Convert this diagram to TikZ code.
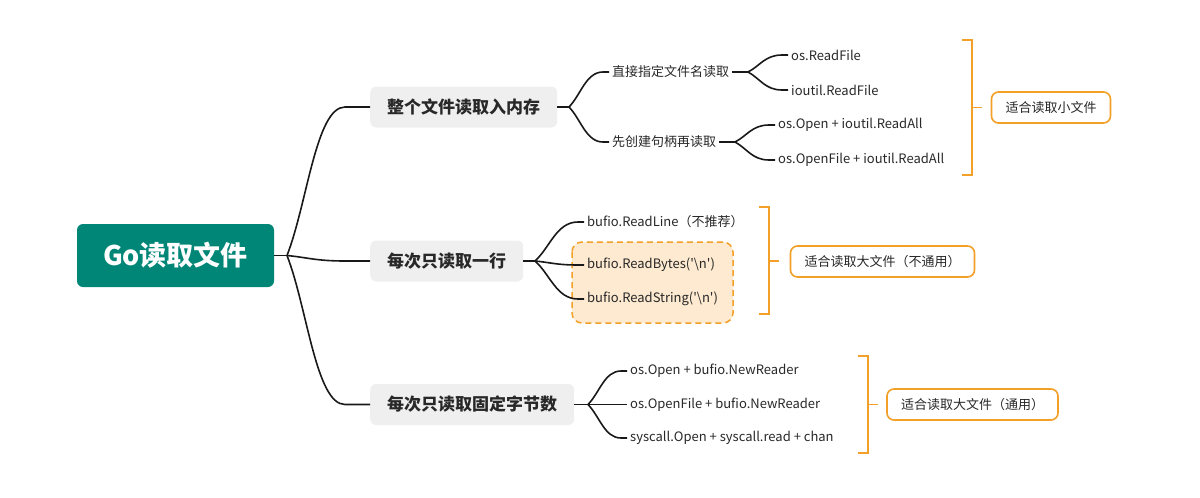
\documentclass[tikz,border=0pt]{standalone}
\usepackage{fontspec}
\setmainfont{Noto Sans CJK SC}
\usetikzlibrary{calc,positioning}
\definecolor{rootteal}{RGB}{0,134,118}
\definecolor{noteorange}{RGB}{242,160,40}
\definecolor{hlfill}{RGB}{253,234,208}
\definecolor{topicgray}{RGB}{239,239,239}
\definecolor{inkgray}{RGB}{40,40,40}

\tikzset{
  rootbox/.style={fill=rootteal, rounded corners=6pt, text=white, font=\fontsize{27}{30}\selectfont\bfseries, minimum width=197pt, minimum height=63pt},
  topic/.style={fill=topicgray, rounded corners=6pt, text=inkgray, font=\fontsize{17}{20}\selectfont\bfseries, inner xsep=17pt, minimum height=41pt, anchor=west},
  leaf/.style={text=inkgray, font=\fontsize{13}{15}\selectfont, inner sep=3pt, anchor=west},
  note/.style={draw=noteorange, line width=1.6pt, rounded corners=7pt, fill=white, text=inkgray, font=\fontsize{13}{15}\selectfont, inner xsep=14pt, minimum height=31pt},
  bracket/.style={draw=noteorange, line width=1.6pt},
  conn/.style={draw=black!90, line width=1.6pt},
  branch/.style={to path={let \p1=(\tikztostart), \p2=(\tikztotarget) in
      .. controls ($(\p1)!0.35!(\x2-#1,\y2)$) and ({0.5*\x1+0.5*\x2-0.5*#1},\y2) .. (\x2-#1,\y2) -- (\p2)}},
  branch/.default=6pt
}

\begin{document}
\begin{tikzpicture}[x=1pt, y=-1pt]
\useasboundingbox (0,0) rectangle (1200,498);

% Root and main topics
\node[rootbox] (root) at (175.5,255.5) {Go读取文件};
\node[topic] (whole) at (370,107) {整个文件读取入内存};
\node[topic] (line) at (370,261) {每次只读取一行};
\node[topic] (chunk) at (370,404.5) {每次只读取固定字节数};

% Highlighted pair
\draw[noteorange, line width=1.5pt, dash pattern=on 6pt off 4pt, fill=hlfill, rounded corners=10pt] (572,242) rectangle (733,323);

% Leaves
\node[leaf] (direct) at (609,72) {直接指定文件名读取};
\node[leaf] (handle) at (609,142) {先创建句柄再读取};
\node[leaf] (osread) at (788,55) {os.ReadFile};
\node[leaf] (ioread) at (788,90) {ioutil.ReadFile};
\node[leaf] (openall) at (775,125) {os.Open + ioutil.ReadAll};
\node[leaf] (openfileall) at (775,160) {os.OpenFile + ioutil.ReadAll};
\node[leaf] (readline) at (584,222) {bufio.ReadLine（不推荐）};
\node[leaf] (readbytes) at (584,265) {bufio.ReadBytes(\textquotesingle\textbackslash n\textquotesingle)};
\node[leaf] (readstring) at (584,299) {bufio.ReadString(\textquotesingle\textbackslash n\textquotesingle)};
\node[leaf] (openreader) at (627,371) {os.Open + bufio.NewReader};
\node[leaf] (openfilereader) at (627,404.5) {os.OpenFile + bufio.NewReader};
\node[leaf] (syscall) at (627,438) {syscall.Open + syscall.read + chan};

% Summary notes
\node[note] (small) at (1051,107.5) {适合读取小文件};
\node[note] (bignot) at (882.5,261.5) {适合读取大文件（不通用）};
\node[note] (bigall) at (972.5,404.5) {适合读取大文件（通用）};

% Brackets
\draw[bracket] (962,40) -- (972,40) -- (972,175) -- (962,175) (972,107.5) -- (982,107.5);
\draw[bracket] (759,207) -- (769,207) -- (769,314) -- (759,314) (769,261) -- (779,261);
\draw[bracket] (858,356) -- (868,356) -- (868,453) -- (858,453) (868,404.5) -- (878,404.5);

% Connectors
\coordinate (jroot) at (287,255.5);
\draw[conn] (root.east) -- (jroot);
\foreach \t in {whole,line,chunk}
    \draw[conn] (jroot) to[branch=25pt] (\t.west);

\coordinate (jwhole) at (569,107);
\draw[conn] (whole.east) -- (jwhole);
\foreach \t in {direct,handle}
    \draw[conn] (jwhole) to[branch] (\t.west);

\coordinate (jdirect) at (748,72);
\draw[conn] (direct.east) -- (jdirect);
\foreach \t in {osread,ioread}
    \draw[conn] (jdirect) to[branch] (\t.west);

\coordinate (jhandle) at (735,142);
\draw[conn] (handle.east) -- (jhandle);
\foreach \t in {openall,openfileall}
    \draw[conn] (jhandle) to[branch] (\t.west);

\coordinate (jline) at (535,261);
\draw[conn] (line.east) -- (jline);
\foreach \t in {readline,readbytes,readstring}
    \draw[conn] (jline) to[branch] (\t.west);

\coordinate (jchunk) at (588,404.5);
\draw[conn] (chunk.east) -- (jchunk);
\foreach \t in {openreader,openfilereader,syscall}
    \draw[conn] (jchunk) to[branch] (\t.west);

\end{tikzpicture}
\end{document}
